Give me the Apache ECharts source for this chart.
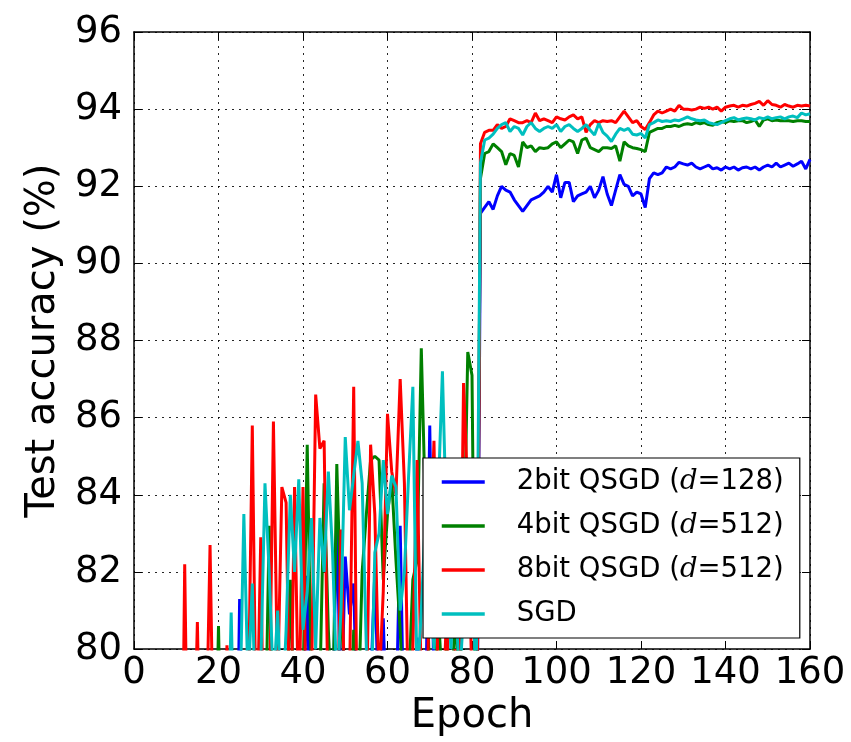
<!DOCTYPE html>
<html>
<head>
<meta charset="utf-8">
<script src="https://cdn.jsdelivr.net/npm/echarts@6/dist/echarts.min.js"></script>
<style>
html,body{margin:0;padding:0;background:#fff;}
#chart{width:851px;height:742px;}
</style>
</head>
<body>
<div id="chart"></div>
<script>
// Epochs 1..160
var epochs = [];
for (var e = 1; e <= 160; e++) epochs.push(e);

var seriesNames = ['2bit QSGD (d=128)', '4bit QSGD (d=512)', '8bit QSGD (d=512)', 'SGD'];
var legendRich = ['2bit QSGD ({i|d}=128)', '4bit QSGD ({i|d}=512)', '8bit QSGD ({i|d}=512)', 'SGD'];

var xTicks = [0, 20, 40, 60, 80, 100, 120, 140, 160];
var yTicks = [80, 82, 84, 86, 88, 90, 92, 94, 96];

// 2bit QSGD (d=128)
var blue = [
35,44,50,54,57,60,62,64,65,67,68,69,70,70,71,72,71,73,72,74,
73,74,75,74,81.3,75,76,74,77,75,76,78,75,77,76,78,75,77,76,78,
81.9,76,78,77,79,76,78,83.5,78,82.4,80.9,81.7,77,78,76,79,82.0,78,80.8,77,
76,78,83.2,77,78,76,80.3,77,78,85.8,79,77,78,76,79,77,78,76,77,78,
74,91.3,91.45,91.6,91.4,91.75,92.0,91.9,91.85,91.65,91.5,91.35,91.5,91.65,91.7,91.75,91.85,92.0,91.85,92.3,
91.7,92.1,92.1,91.6,91.75,91.8,91.85,92.0,91.7,91.9,92.25,91.8,91.5,91.9,92.3,92.05,92.0,91.75,91.85,91.8,
91.45,92.2,92.35,92.3,92.35,92.5,92.45,92.5,92.62,92.58,92.55,92.6,92.5,92.45,92.5,92.55,92.45,92.48,92.42,92.5,
92.45,92.5,92.42,92.48,92.5,92.45,92.5,92.42,92.5,92.55,92.5,92.6,92.5,92.55,92.6,92.52,92.58,92.65,92.45,92.7
];
// 4bit QSGD (d=512)
var green = [
38,47,53,57,60,62,65,67,68,70,71,72,73,72,74,75,74,76,75,80.6,
75,77,76,78,77,79,76,78,77,79,77,83.2,76,79,78,77,81.8,78,77,79,
85.3,79,78,79,84.3,80.5,78,84.8,81,79,77,80.5,78,82,83.5,84.9,85.0,84.9,81.8,83.5,
84.4,82.3,80.5,78,79,81.8,82.3,87.8,83.5,79,78.5,81,79,80,78,81,79,82,87.7,87.1,
76,92.2,92.85,92.9,93.1,93.0,92.9,92.56,92.85,92.8,92.5,93.15,93.0,93.05,92.9,93.0,92.98,93.0,93.1,93.15,
93.0,93.1,93.2,93.15,92.85,93.2,93.25,93.0,92.95,92.9,93.0,93.0,92.98,93.05,92.65,93.15,93.05,93.0,92.98,92.95,
92.9,93.4,93.45,93.5,93.5,93.55,93.55,93.58,93.55,93.6,93.62,93.6,93.65,93.62,93.65,93.6,93.58,93.65,93.68,93.65,
93.7,93.68,93.7,93.7,93.65,93.68,93.72,93.55,93.72,93.75,93.7,93.72,93.7,93.7,93.7,93.68,93.7,93.7,93.68,93.68
];
// 8bit QSGD (d=512)
var red = [
42,51,57,60,63,66,67,70,71,73,72,82.2,74,76,80.7,75,77,82.7,76,77,
75,80.1,78,77,79,76,78,85.8,77,82.9,74,78,85.9,79,84.2,83.8,77,84.2,78,84.2,
76,79,86.6,85.2,85.4,78,76,77,83.1,78,79,86.8,76,79,78,85.3,83.5,79,81.5,86.1,
84.6,84.0,87.0,84.3,78,80,84.9,79,77,82,85.4,79,78,81,77,80,78,86.9,84,79,
74,93.1,93.4,93.45,93.45,93.6,93.5,93.55,93.75,93.7,93.65,93.65,93.7,93.65,93.9,93.7,93.75,93.7,93.65,93.8,
93.75,93.72,93.8,93.85,93.75,93.8,93.4,93.6,93.7,93.65,93.7,93.68,93.7,93.65,93.8,93.95,93.8,93.65,93.7,93.55,
93.47,93.65,93.85,93.95,93.9,93.95,94.0,93.95,94.1,94.0,94.0,93.98,94.0,94.05,94.02,94.05,94.0,94.05,93.95,94.05,
94.08,94.1,94.05,94.1,94.08,94.12,94.15,94.2,94.1,94.22,94.12,94.1,94.05,94.12,94.08,94.05,94.1,94.08,94.1,94.08
];
// SGD
var cyan = [
40,49,55,59,62,64,66,68,69,71,72,73,74,73,75,76,75,77,76,78,
77,76,80.95,76,78,83.5,79,81.7,77,79.5,84.3,82,79,81.0,78,80.5,84.0,82,84.4,80.5,
81.5,83.4,80,83.4,82,84.6,82.5,79,81,85.5,83.6,84.5,85.4,84.3,80,78,82.5,83,84.9,83.5,
84.5,84.2,81,82,84.5,86.8,79,81,83.5,82,80,84,87.2,83,80,82,79,81,83,82,
79,92.6,93.2,93.25,93.35,93.5,93.6,93.65,93.42,93.55,93.5,93.33,93.55,93.65,93.5,93.42,93.5,93.55,93.5,93.6,
93.42,93.55,93.6,93.5,93.42,93.5,93.6,93.45,93.33,93.63,93.4,93.3,93.16,93.35,93.5,93.45,93.5,93.35,93.33,93.37,
93.25,93.6,93.65,93.72,93.68,93.7,93.68,93.72,93.7,93.75,93.8,93.75,93.72,93.7,93.72,93.65,93.62,93.6,93.65,93.7,
93.75,93.78,93.72,93.75,93.77,93.75,93.72,93.78,93.75,93.8,93.75,93.78,93.8,93.75,93.8,93.82,93.78,93.9,93.85,93.88
];

var seriesValues = [blue, green, red, cyan];
var colors = ['#0000ff', '#008000', '#ff0000', '#00bfbf'];

function pairs(vals) {
  return vals.map(function (v, i) { return [epochs[i], v]; });
}

var FONT = 'DejaVu Sans';
var chart = echarts.init(document.getElementById('chart'), null, {renderer: 'canvas'});

var baseX = {
  type: 'value', min: xTicks[0], max: xTicks[xTicks.length - 1], interval: 20
};
var baseY = {
  type: 'value', min: yTicks[0], max: yTicks[yTicks.length - 1], interval: 2
};

var option = {
  animation: false,
  backgroundColor: '#ffffff',
  grid: {left: 134, right: 41, top: 32, bottom: 90, show: false},
  xAxis: [
    Object.assign({}, baseX, {
      position: 'bottom',
      name: 'Epoch', nameLocation: 'middle', nameGap: 44,
      nameTextStyle: {fontFamily: FONT, fontSize: 40, color: '#000'},
      axisLine: {show: true, onZero: false, lineStyle: {color: '#000', width: 1.5}},
      axisTick: {show: true, inside: true, length: 8, lineStyle: {color: '#000', width: 1}},
      axisLabel: {show: true, margin: 6, fontFamily: FONT, fontSize: 37, color: '#000'},
      splitLine: {show: true, lineStyle: {color: '#000', type: [2, 5], width: 1, opacity: 0.85}}
    }),
    Object.assign({}, baseX, {
      position: 'top',
      axisLine: {show: true, onZero: false, lineStyle: {color: '#000', width: 1.5}},
      axisTick: {show: true, inside: true, length: 8, lineStyle: {color: '#000', width: 1}},
      axisLabel: {show: false},
      splitLine: {show: false}
    })
  ],
  yAxis: [
    Object.assign({}, baseY, {
      position: 'left',
      name: 'Test accuracy (%)', nameLocation: 'middle', nameGap: 66,
      nameTextStyle: {fontFamily: FONT, fontSize: 40, color: '#000'},
      axisLine: {show: true, onZero: false, lineStyle: {color: '#000', width: 1.5}},
      axisTick: {show: true, inside: true, length: 8, lineStyle: {color: '#000', width: 1}},
      axisLabel: {show: true, margin: 12, fontFamily: FONT, fontSize: 37, color: '#000'},
      splitLine: {show: true, lineStyle: {color: '#000', type: [2, 5], width: 1, opacity: 0.85}}
    }),
    Object.assign({}, baseY, {
      position: 'right',
      axisLine: {show: true, onZero: false, lineStyle: {color: '#000', width: 1.5}},
      axisTick: {show: true, inside: true, length: 8, lineStyle: {color: '#000', width: 1}},
      axisLabel: {show: false},
      splitLine: {show: false}
    })
  ],
  legend: {
    show: true,
    z: 50,
    orient: 'vertical',
    left: 423, top: 458,
    backgroundColor: '#ffffff',
    borderColor: '#000', borderWidth: 1.2, borderRadius: 0,
    padding: [9, 16, 9, 17],
    itemWidth: 43, itemHeight: 14, itemGap: 14,
    data: seriesNames,
    itemStyle: {opacity: 0},
    lineStyle: {width: 3.5},
    formatter: function (name) { return legendRich[seriesNames.indexOf(name)]; },
    textStyle: {
      fontFamily: FONT, fontSize: 27.5, color: '#000', lineHeight: 30,
      padding: [0, 0, 0, 27],
      rich: {
        i: {fontFamily: 'DejaVu Serif', fontStyle: 'italic', fontSize: 27.5, color: '#000', lineHeight: 30}
      }
    }
  },
  series: seriesNames.map(function (n, k) {
    return {
      name: n,
      type: 'line',
      xAxisIndex: 0, yAxisIndex: 0,
      data: pairs(seriesValues[k]),
      showSymbol: false, symbol: 'none',
      clip: true,
      color: colors[k],
      lineStyle: {color: colors[k], width: 3},
      itemStyle: {color: colors[k]},
      z: 2
    };
  })
};
chart.setOption(option);
</script>
</body>
</html>
